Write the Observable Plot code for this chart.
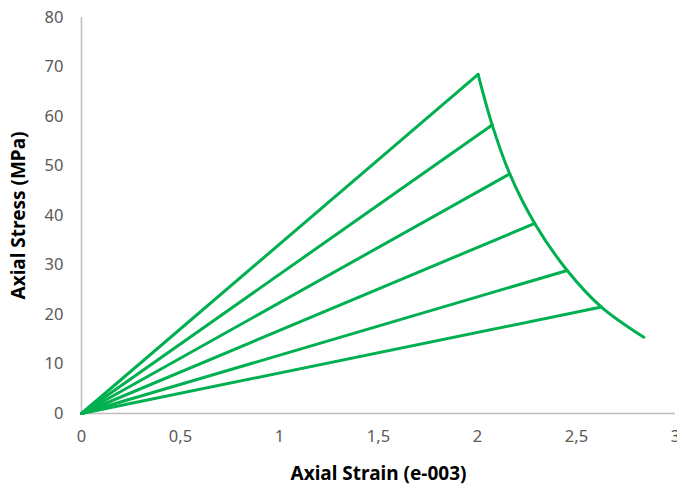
<!DOCTYPE html>
<html>
<head>
<meta charset="utf-8">
<script src="https://cdn.jsdelivr.net/npm/d3@7"></script>
<script src="https://cdn.jsdelivr.net/npm/@observablehq/plot@0.6"></script>
<style>
  html, body { margin: 0; padding: 0; background: #fff; }
  #chart { width: 677px; height: 489px; }
</style>
</head>
<body>
<div id="chart"></div>
<script>
// Peak (failure) points of each loading line
const peakStrain = [2.003, 2.074, 2.163, 2.289, 2.453, 2.626];
const peakStress = [68.5, 58.3, 48.4, 38.4, 28.9, 21.5];
// Envelope tail end point
const tailStrain = [2.84];
const tailStress = [15.4];
const xTicks = [0, 0.5, 1, 1.5, 2, 2.5, 3];
const yTicks = [0, 10, 20, 30, 40, 50, 60, 70, 80];

const green = "#00B050";
const font = "'Noto Sans', sans-serif";

const loadLines = [];
peakStrain.forEach((s, i) => {
  loadLines.push({id: i, x: 0, y: 0});
  loadLines.push({id: i, x: s, y: peakStress[i]});
});
const envelope = peakStrain.map((s, i) => ({x: s, y: peakStress[i]}))
  .concat(tailStrain.map((s, i) => ({x: s, y: tailStress[i]})));

const fmt = d => String(d).replace(".", ",");

const chart = Plot.plot({
  width: 677,
  height: 489,
  marginLeft: 81,
  marginTop: 17,
  marginBottom: 76,
  marginRight: 2,
  style: {fontFamily: font, fontSize: "16.5px", background: "#fff"},
  x: {domain: [0, 3], ticks: xTicks, tickFormat: fmt},
  y: {domain: [0, 80], ticks: yTicks},
  marks: [
    Plot.ruleY([0], {stroke: "#bfbfbf", strokeWidth: 1.5}),
    Plot.ruleX([0], {stroke: "#bfbfbf", strokeWidth: 1.5}),
    Plot.axisX({ticks: xTicks, tickFormat: fmt, tickSize: 0, tickPadding: 17,
      fill: "#595959", label: null}),
    Plot.axisY({ticks: yTicks, tickSize: 0, tickPadding: 18,
      fill: "#595959", label: null}),
    Plot.text(["Axial Strain (e-003)"], {frameAnchor: "bottom", textAnchor: "middle", dy: 66,
      fontSize: 19, fontWeight: "bold", fill: "#000"}),
    Plot.text(["Axial Stress (MPa)"], {frameAnchor: "left", textAnchor: "middle", dx: -63, rotate: -90,
      fontSize: 19, fontWeight: "bold", fill: "#000"}),
    Plot.line(loadLines, {x: "x", y: "y", z: "id", stroke: green, strokeWidth: 3}),
    Plot.line(envelope, {x: "x", y: "y", stroke: green, strokeWidth: 3, curve: "catmull-rom"})
  ]
});
document.getElementById("chart").appendChild(chart);
</script>
</body>
</html>
